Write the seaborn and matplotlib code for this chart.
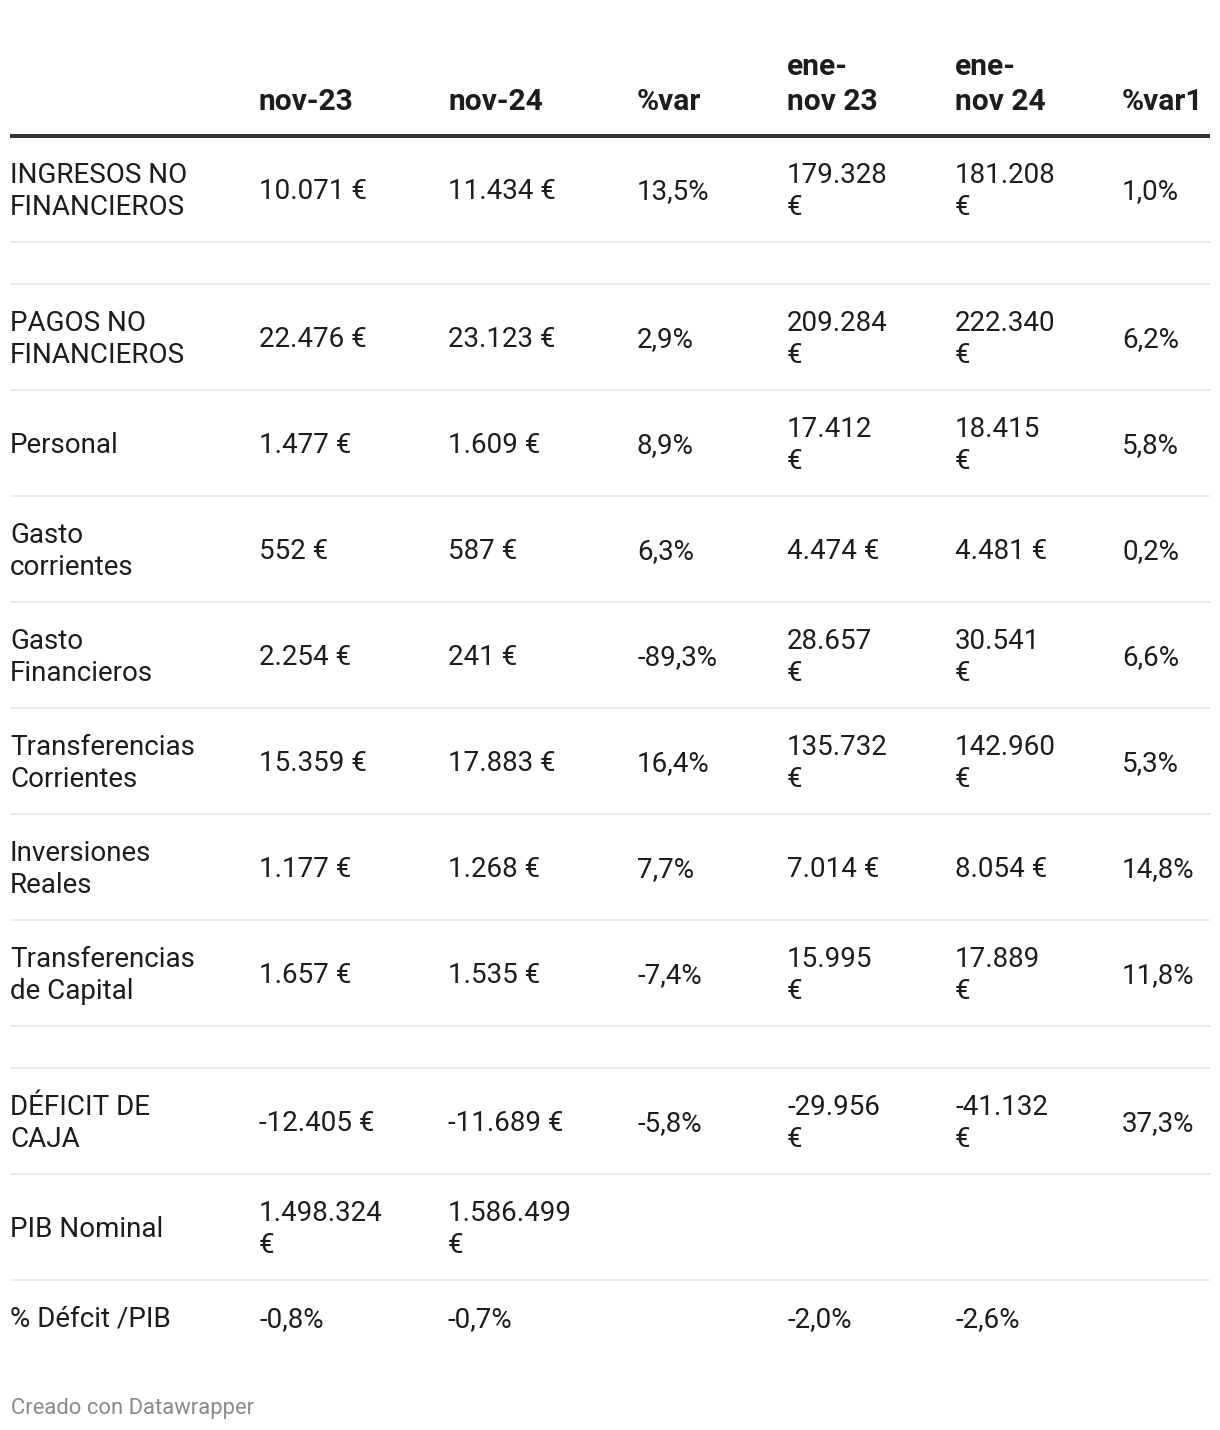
import textwrap
import matplotlib
matplotlib.use("Agg")
import matplotlib.pyplot as plt
import seaborn as sns

# ---------------- data ----------------
headers = ["", "nov-23", "nov-24", "%var", "ene-\nnov 23", "ene-\nnov 24", "%var1"]
row_labels = ["INGRESOS NO FINANCIEROS", "", "PAGOS NO FINANCIEROS", "Personal",
              "Gasto corrientes", "Gasto Financieros", "Transferencias Corrientes",
              "Inversiones Reales", "Transferencias de Capital", "",
              "DÉFICIT DE CAJA", "PIB Nominal", "% Défcit /PIB"]
nov23 = ["10.071 €", "", "22.476 €", "1.477 €", "552 €", "2.254 €", "15.359 €",
         "1.177 €", "1.657 €", "", "-12.405 €", "1.498.324 €", "-0,8%"]
nov24 = ["11.434 €", "", "23.123 €", "1.609 €", "587 €", "241 €", "17.883 €",
         "1.268 €", "1.535 €", "", "-11.689 €", "1.586.499 €", "-0,7%"]
var = ["13,5%", "", "2,9%", "8,9%", "6,3%", "-89,3%", "16,4%",
       "7,7%", "-7,4%", "", "-5,8%", "", ""]
ene_nov23 = ["179.328 €", "", "209.284 €", "17.412 €", "4.474 €", "28.657 €", "135.732 €",
             "7.014 €", "15.995 €", "", "-29.956 €", "", "-2,0%"]
ene_nov24 = ["181.208 €", "", "222.340 €", "18.415 €", "4.481 €", "30.541 €", "142.960 €",
             "8.054 €", "17.889 €", "", "-41.132 €", "", "-2,6%"]
var1 = ["1,0%", "", "6,2%", "5,8%", "0,2%", "6,6%", "5,3%",
        "14,8%", "11,8%", "", "37,3%", "", ""]
footer = "Creado con Datawrapper"

columns = [row_labels, nov23, nov24, var, ene_nov23, ene_nov24, var1]

# ---------------- layout ----------------
W, H = 1220, 1430
col_x = [10, 259, 448, 637, 787, 955, 1122]
wrap_width = [14, 10, 10, 10, 7, 7, 10]
LINE = 32
PAD = 21
PX2PT = 72 / 100
FS = 27.7 * PX2PT

sns.set_theme(style="white")
plt.rcParams["font.family"] = ["Roboto", "DejaVu Sans"]

fig = plt.figure(figsize=(W / 100, H / 100), dpi=100)
ax = fig.add_axes([0, 0, 1, 1])
ax.set_xlim(0, W)
ax.set_ylim(H, 0)
ax.axis("off")

TEXT = "#1d1d1d"

# header
head_base = 110
for x, h in zip(col_x, headers):
    lines = h.split("\n")
    n = len(lines)
    for i, ln in enumerate(lines):
        ax.text(x, head_base - (n - 1 - i) * 35, ln, fontsize=30 * PX2PT,
                fontweight="bold", color=TEXT, va="baseline", ha="left")

y = 136
ax.plot([10, 1210], [y, y], color="#333333", lw=4 * PX2PT, solid_capstyle="butt")

nrows = len(row_labels)
for r in range(nrows):
    cells = [textwrap.wrap(col[r], wrap_width[c]) if col[r] else []
             for c, col in enumerate(columns)]
    nl = max(len(c) for c in cells)
    h = 2 * PAD + LINE * nl
    center = y + h / 2
    for c, lines in enumerate(cells):
        n = len(lines)
        for i, ln in enumerate(lines):
            yc = center + (i - (n - 1) / 2) * LINE
            ax.text(col_x[c], yc + 10, ln, fontsize=FS, color=TEXT,
                    va="baseline", ha="left")
    y += h
    if r < nrows - 1:
        ax.plot([10, 1210], [y, y], color="#ebebeb", lw=2 * PX2PT,
                solid_capstyle="butt")

ax.text(11, 1414, footer, fontsize=22 * PX2PT, color="#8a8a8a",
        va="baseline", ha="left")

fig.savefig("out.png", dpi=100, facecolor="white")
